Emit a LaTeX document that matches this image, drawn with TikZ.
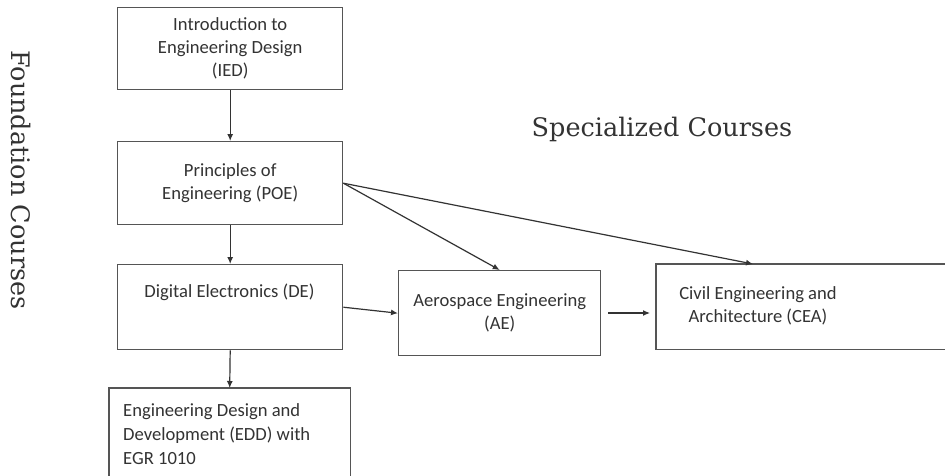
\documentclass[tikz,border=0pt]{standalone}
\usepackage{fontspec}
\setmainfont{DejaVu Serif}
\newfontfamily\boxfont{Carlito}
\newfontfamily\titlefont{DejaVu Serif}
\usetikzlibrary{arrows.meta,calc}
\definecolor{boxline}{HTML}{555555}
\definecolor{boxtext}{HTML}{333333}
\definecolor{arrowc}{HTML}{333333}
\tikzset{
  box/.style={draw=boxline, line width=1.4pt, rectangle, inner sep=0pt, anchor=north west},
  openbox/.style={draw=none, rectangle, inner sep=0pt, anchor=north west},
  boxedge/.style={draw=boxline, line width=1.4pt},
  txt/.style={text=boxtext, font=\boxfont\fontsize{18.6}{23}\selectfont, align=center, inner sep=0pt},
  lefttxt/.style={text=boxtext, font=\boxfont\fontsize{18.6}{24}\selectfont, align=left, inner sep=0pt, anchor=north west},
  title/.style={text=boxtext, font=\titlefont\fontsize{25.5}{28}\selectfont, inner sep=0pt},
  arr/.style={draw=arrowc, line width=1.2pt, -{Latex[length=7pt,width=6pt]}}
}
\begin{document}
\begin{tikzpicture}[x=1pt,y=-1pt]
\useasboundingbox (0,0) rectangle (945,475);
\clip (0,0) rectangle (945,475);
\fill[white] (0,0) rectangle (945,475);
% boxes
\node[box, minimum width=225, minimum height=82] (ied) at (117,7) {};
\node[txt] (iedt) at (ied.center) {Introduction to\\Engineering Design\\(IED)};
\node[box, minimum width=225, minimum height=83] (poe) at (117,141) {};
\node[txt] (poet) at (poe.center) {Principles of\\Engineering (POE)};
\node[box, minimum width=225, minimum height=85] (de) at (117,264) {};
\node[txt] (det) at (229.5,292) {Digital Electronics (DE)};
\node[openbox, minimum width=241, minimum height=100] (edd) at (109,388) {};
\draw[boxedge] (edd.south west) -- (edd.north west) -- (edd.north east) -- (edd.south east);
\node[lefttxt] (eddt) at (123,403) {Engineering Design and\\Development (EDD) with\\EGR 1010};
\node[box, minimum width=202, minimum height=85] (ae) at (398,270) {};
\node[txt] (aet) at (ae.center) {Aerospace Engineering\\(AE)};
\node[openbox, minimum width=300, minimum height=85] (cea) at (656,264) {};
\draw[boxedge] (cea.north east) -- (cea.north west) -- (cea.south west) -- (cea.south east);
\node[txt] (ceat) at (758,306) {Civil Engineering and\\Architecture (CEA)};
% titles
\node[title] (spec) at (662,129) {Specialized Courses};
\node[title, rotate=-90] (found) at (21,180) {Foundation Courses};
% connectors
\draw[arr] (ied.south) -- (poe.north);
\draw[arr] (poe.south) -- (de.north);
\draw[arr] (de.south) -- (edd.north);
\draw[arr] (poe.east) -- (ae.north);
\draw[arr] (poe.east) -- ([xshift=97pt]cea.north west);
\draw[arr] (de.east) -- (ae.west);
\coordinate (fa) at (608,313);
\coordinate (fb) at (650,313);
\draw[arr] (fa) -- (fb);
\end{tikzpicture}
\end{document}
